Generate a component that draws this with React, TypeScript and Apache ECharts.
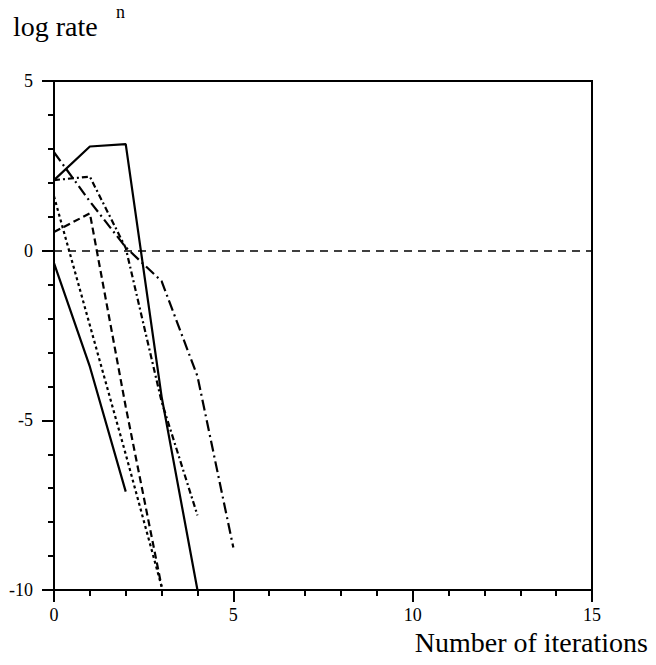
import React, { useEffect, useRef } from "react";
import * as echarts from "echarts";

// Iteration index (x) for each curve
const itersA = [0, 1, 2, 3, 4];
const valuesA = [2.08, 3.07, 3.14, -4.3, -10];
const itersB = [0, 1, 2, 3, 4, 5];
const valuesB = [2.9, 1.45, 0.1, -0.9, -3.7, -8.75];
const itersC = [0, 1, 2, 3, 4];
const valuesC = [2.08, 2.18, 0.08, -4.45, -7.8];
const itersD = [0, 1, 2, 3];
const valuesD = [0.55, 1.1, -4.6, -9.9];
const itersE = [0, 1, 2, 3];
const valuesE = [1.6, -2.2, -6.0, -9.9];
const itersF = [0, 1, 2];
const valuesF = [-0.37, -3.42, -7.1];

const xTicks = [0, 5, 10, 15];
const yTicks = [-10, -5, 0, 5];

const zip = (xs: number[], ys: number[]) => xs.map((x, i) => [x, ys[i]]);

export default function App() {
  const ref = useRef<HTMLDivElement>(null);
  useEffect(() => {
    if (!ref.current) return;
    const chart = echarts.init(ref.current, undefined, { renderer: "svg" });
    const font = "Liberation Serif, Times New Roman, serif";
    const mk = (name: string, data: number[][], type: any) => ({
      name,
      type: "line",
      data,
      symbol: "none",
      lineStyle: { color: "#000", width: 2.2, type },
      z: 3,
    });
    chart.setOption({
      animation: false,
      backgroundColor: "#fff",
      textStyle: { fontFamily: font },
      grid: {
        left: 54,
        right: 64,
        top: 81,
        bottom: 75,
        show: true,
        borderColor: "#000",
        borderWidth: 2,
        backgroundColor: "transparent",
      },
      xAxis: {
        type: "value",
        min: xTicks[0],
        max: xTicks[xTicks.length - 1],
        interval: 5,
        axisLine: { show: true, onZero: false, lineStyle: { color: "#000", width: 2 } },
        axisTick: { show: true, length: 12, lineStyle: { color: "#000", width: 2 } },
        minorTick: { show: true, splitNumber: 5, length: 6, lineStyle: { color: "#000", width: 2 } },
        splitLine: { show: false },
        axisLabel: { color: "#000", fontFamily: font, fontSize: 18, margin: 16 },
      },
      yAxis: {
        type: "value",
        min: yTicks[0],
        max: yTicks[yTicks.length - 1],
        interval: 5,
        axisLine: { show: true, onZero: false, lineStyle: { color: "#000", width: 2 } },
        axisTick: { show: true, length: 12, lineStyle: { color: "#000", width: 2 } },
        minorTick: { show: true, splitNumber: 5, length: 6, lineStyle: { color: "#000", width: 2 } },
        splitLine: { show: false },
        axisLabel: { color: "#000", fontFamily: font, fontSize: 18, margin: 21 },
      },
      graphic: [
        {
          type: "text",
          left: 13,
          top: 12,
          style: { text: "log rate", fontFamily: font, fontSize: 28, fill: "#000" },
        },
        {
          type: "text",
          left: 116,
          top: 3,
          style: { text: "n", fontFamily: font, fontSize: 18, fill: "#000" },
        },
        {
          type: "text",
          right: 8,
          top: 628,
          style: { text: "Number of iterations", fontFamily: font, fontSize: 28, fill: "#000" },
        },
      ],
      series: [
        {
          ...mk("A", zip(itersA, valuesA), "solid"),
          markLine: {
            silent: true,
            symbol: "none",
            label: { show: false },
            lineStyle: { color: "#000", width: 1.5, type: [8, 6] },
            data: [{ yAxis: 0 }],
          },
        },
        mk("B", zip(itersB, valuesB), [11, 4, 2, 4]),
        mk("C", zip(itersC, valuesC), [6, 3, 2, 3]),
        mk("D", zip(itersD, valuesD), [7, 4]),
        mk("E", zip(itersE, valuesE), [3, 3]),
        mk("F", zip(itersF, valuesF), "solid"),
      ],
    });
    return () => chart.dispose();
  }, []);
  return (
    <div
      ref={ref}
      style={{ position: "fixed", left: 0, top: 0, width: 656, height: 665, background: "#fff" }}
    />
  );
}
